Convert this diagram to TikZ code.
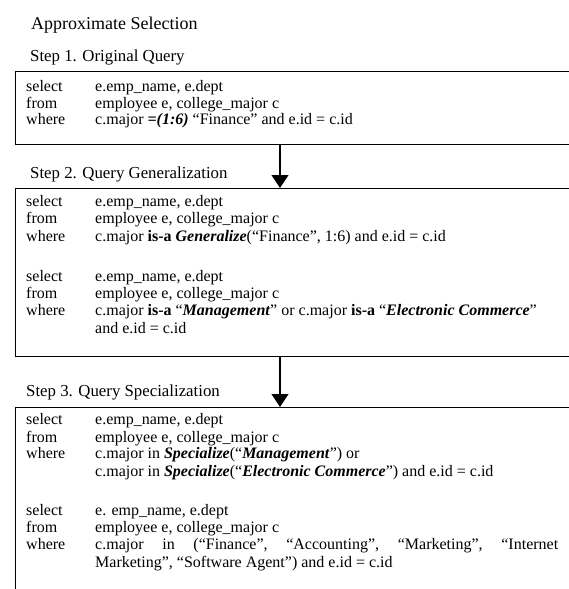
\documentclass[tikz,border=0pt]{standalone}
\usepackage{graphicx}
\usepackage{fontspec}
\setmainfont{Liberation Serif}
\usetikzlibrary{arrows.meta}
\newcommand\qbi[1]{\textbf{\textit{#1}}}
\newcommand\qb[1]{\textbf{#1}}
\tikzset{
  qbox/.style={draw, line width=1.3pt, minimum width=600pt, anchor=north west, inner sep=0pt},
  kw/.style={anchor=base west, inner sep=0pt, font=\fontsize{16}{18}\selectfont},
  steplabel/.style={anchor=base west, inner sep=0pt, font=\fontsize{16.8}{19}\selectfont},
  titlelabel/.style={anchor=base west, inner sep=0pt, font=\fontsize{18}{21}\selectfont},
  arr/.style={line width=1.2pt, -{Triangle[width=17pt,length=13pt]}}
}
\newcommand\qrow[4]{\node[kw] (k#1) at (26,#2) {#3}; \node[kw] (v#1) at (95,#2) {#4};}
\newcommand\qcont[3]{\node[kw] (v#1) at (95,#2) {#3};}
\begin{document}
\begin{tikzpicture}[x=1pt,y=-1pt]
\useasboundingbox (0,0) rectangle (569,589);
\clip (0,0) rectangle (569,589);
\node[titlelabel] (title) at (31,29) {Approximate Selection};
\node[steplabel] (s1) at (30,61) {Step 1. Original Query};
\node[qbox, minimum height=73pt] (b1) at (15,71) {};
\qrow{a1}{91}{select}{e.emp\_name, e.dept}
\qrow{a2}{108}{from}{employee e, college\_major c}
\qrow{a3}{124}{where}{c.major \qbi{=(1:6)} “Finance” and e.id = c.id}

\node[steplabel] (s2) at (30,178) {Step 2. Query Generalization};
\node[qbox, minimum height=168pt] (b2) at (15,188) {};
\qrow{b1}{206}{select}{e.emp\_name, e.dept}
\qrow{b2}{223}{from}{employee e, college\_major c}
\qrow{b3}{241}{where}{c.major \qb{is-a} \qbi{Generalize}(“Finance”, 1:6) and e.id = c.id}
\qrow{b4}{281}{select}{e.emp\_name, e.dept}
\qrow{b5}{298}{from}{employee e, college\_major c}
\qrow{b6}{315}{where}{c.major \qb{is-a} “\qbi{Management}” or c.major \qb{is-a} “\qbi{Electronic Commerce}”}
\qcont{b7}{333}{and e.id = c.id}

\node[steplabel] (s3) at (26,396) {Step 3. Query Specialization};
\node[qbox, minimum height=220pt] (b3) at (15,407) {};
\qrow{c1}{424}{select}{e.emp\_name, e.dept}
\qrow{c2}{442}{from}{employee e, college\_major c}
\qrow{c3}{458}{where}{c.major in \qbi{Specialize}(“\qbi{Management}”) or}
\qcont{c4}{476}{c.major in \qbi{Specialize}(“\qbi{Electronic Commerce}”) and e.id = c.id}
\qrow{c5}{515}{select}{e. emp\_name, e.dept}
\qrow{c6}{532}{from}{employee e, college\_major c}
\qrow{c7}{549}{where}{\makebox[463pt][s]{c.major\hfill in\hfill (“Finance”,\hfill “Accounting”,\hfill “Marketing”,\hfill “Internet}}
\qcont{c8}{567}{Marketing”, “Software Agent”) and e.id = c.id}

\draw[arr] ([xshift=265pt]b1.south west) -- ([xshift=265pt]b2.north west);
\draw[arr] ([xshift=265pt]b2.south west) -- ([xshift=265pt]b3.north west);
\end{tikzpicture}
\end{document}
